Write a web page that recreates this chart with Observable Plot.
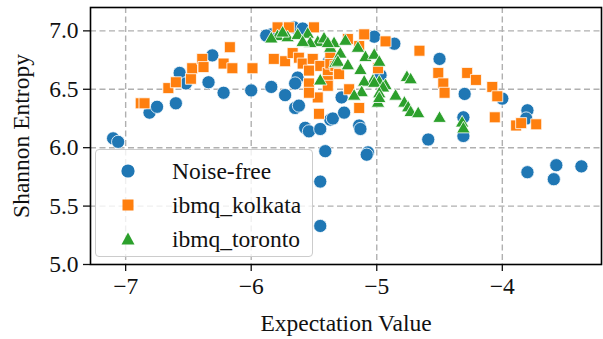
<!DOCTYPE html>
<html>
<head>
<meta charset="utf-8">
<script src="https://cdn.jsdelivr.net/npm/d3@7"></script>
<script src="https://cdn.jsdelivr.net/npm/@observablehq/plot@0.6"></script>
<style>
  body { margin: 0; background: #fff; }
  #wrap { position: relative; width: 603px; height: 339px; font-family: "Liberation Serif", "Times New Roman", serif; }
  #legend { position: absolute; left: 95px; top: 149px; width: 216px; height: 106px;
    background: rgba(255,255,255,0.8); border: 1px solid #cccccc; border-radius: 4px; }
  .entry { position: absolute; left: 0; height: 30px; display: flex; align-items: center; font-size: 23.5px; color: #111; }
  .entry svg { margin-left: 25px; margin-right: 37px; }
</style>
</head>
<body>
<div id="wrap"></div>
<script>
const seriesNames = ["Noise-free", "ibmq_kolkata", "ibmq_toronto"];
const seriesColors = ["#1f77b4", "#ff7f0e", "#2ca02c"];
const xTicks = [-7, -6, -5, -4];
const yTicks = [5.0, 5.5, 6.0, 6.5, 7.0];

const noiseFree = [
  [-7.10,6.08],[-7.06,6.05],[-6.81,6.30],[-6.75,6.35],[-6.60,6.38],[-6.57,6.64],[-6.52,6.55],
  [-6.34,6.56],[-6.31,6.79],[-6.22,6.47],[-6.00,6.49],[-5.84,6.52],[-5.73,6.45],[-5.65,6.34],
  [-5.62,6.36],[-5.57,6.17],[-5.54,6.14],[-5.45,6.16],[-5.37,6.24],[-5.35,6.25],[-5.41,5.97],
  [-5.45,5.71],[-5.45,5.33],[-5.07,5.96],[-5.08,5.94],[-5.84,6.97],[-5.88,6.96],[-5.66,7.03],
  [-5.59,7.02],[-5.63,6.60],[-5.65,6.55],[-5.28,6.43],[-5.26,6.30],[-5.14,6.19],[-5.13,6.16],
  [-5.38,6.74],[-5.02,6.95],[-4.86,6.89],[-4.97,6.62],[-4.50,6.76],[-4.30,6.46],[-4.00,6.42],
  [-3.80,6.32],[-3.81,6.25],[-4.31,6.26],[-4.31,6.10],[-4.59,6.07],[-3.80,5.79],[-3.57,5.85],
  [-3.59,5.73],[-3.37,5.84]
];
const kolkata = [
  [-6.88,6.38],[-6.85,6.38],[-6.66,6.51],[-6.60,6.56],[-6.48,6.59],[-6.47,6.68],[-6.39,6.76],
  [-6.38,6.69],[-6.22,6.72],[-6.15,6.68],[-6.17,6.86],[-5.99,6.68],[-5.82,6.76],[-5.73,6.74],
  [-5.54,6.55],[-5.47,6.43],[-5.46,6.29],[-5.54,6.47],[-5.79,7.03],[-5.70,7.03],[-5.50,7.03],
  [-5.67,6.81],[-5.62,6.77],[-5.59,6.72],[-5.51,6.76],[-5.45,6.70],[-5.54,6.66],[-5.39,6.64],
  [-5.37,6.72],[-5.33,6.70],[-5.30,6.63],[-5.39,6.57],[-5.37,6.81],[-5.23,6.93],[-5.14,6.87],
  [-5.10,6.97],[-4.93,6.91],[-4.99,6.68],[-5.39,6.53],[-5.22,6.50],[-5.14,6.34],[-4.66,6.83],
  [-4.51,6.64],[-4.47,6.55],[-4.46,6.47],[-4.28,6.64],[-4.21,6.58],[-4.08,6.52],[-4.04,6.44],
  [-4.06,6.26],[-3.89,6.19],[-3.85,6.21],[-3.73,6.20]
];
const toronto = [
  [-5.79,6.95],[-5.71,6.94],[-5.63,6.96],[-5.55,6.97],[-5.47,6.90],[-5.42,6.93],[-5.37,6.85],
  [-5.53,6.89],[-5.59,6.90],[-5.75,6.98],[-5.84,6.93],[-5.33,6.72],[-5.45,6.57],[-5.34,6.89],
  [-5.25,6.91],[-5.29,6.80],[-5.15,6.85],[-5.09,6.77],[-5.02,6.79],[-4.98,6.73],[-5.31,6.73],
  [-5.23,6.70],[-5.13,6.66],[-5.03,6.57],[-4.98,6.56],[-4.93,6.53],[-5.10,6.56],[-5.39,6.89],
  [-4.76,6.60],[-4.73,6.58],[-5.12,6.47],[-5.18,6.44],[-5.02,6.55],[-4.95,6.51],[-4.98,6.46],
  [-4.85,6.44],[-4.78,6.38],[-4.75,6.34],[-4.73,6.30],[-4.67,6.29],[-4.50,6.25],[-4.32,6.21],
  [-4.31,6.16],[-4.99,6.38],[-4.98,6.42]
];

const toRows = arr => arr.map(([x, y]) => ({x, y}));
const grid = {stroke: "#b0b0b0", strokeOpacity: 1, strokeWidth: 1.4, strokeDasharray: "6,3.5"};

const chart = Plot.plot({
  width: 603,
  height: 339,
  marginLeft: 90,
  marginRight: 2,
  marginTop: 7,
  marginBottom: 75,
  style: {fontFamily: "'Liberation Serif', 'Times New Roman', serif", fontSize: "23.5px", background: "white", color: "#111"},
  x: {domain: [-7.28, -3.21]},
  y: {domain: [5.0, 7.2]},
  marks: [
    Plot.gridX(xTicks, grid),
    Plot.gridY(yTicks.filter(d => d > 5.0), grid),
    Plot.dot(toRows(noiseFree), {x: "x", y: "y", symbol: "circle", r: 6.6, fill: seriesColors[0], stroke: "white", strokeWidth: 0.8}),
    Plot.dot(toRows(kolkata), {x: "x", y: "y", symbol: "square", r: 6.2, fill: seriesColors[1], stroke: "white", strokeWidth: 0.8}),
    Plot.dot(toRows(toronto), {x: "x", y: "y", symbol: "triangle", r: 5.0, fill: seriesColors[2], stroke: "white", strokeWidth: 0.8}),
    Plot.axisX(xTicks, {tickSize: 7, tickPadding: 6, strokeWidth: 1.3, tickFormat: d3.format("d"), fontSize: 23.5,
      label: "Expectation Value", labelAnchor: "center", labelArrow: "none", labelOffset: 66}),
    Plot.axisY(yTicks, {tickSize: 7, tickPadding: 5, strokeWidth: 1.3, tickFormat: d3.format(".1f"), fontSize: 23.5,
      label: "Shannon Entropy", labelAnchor: "center", labelArrow: "none", labelOffset: 78}),
    Plot.frame({stroke: "black", strokeWidth: 1.6})
  ]
});

const wrap = document.getElementById("wrap");
wrap.appendChild(chart);

const legend = document.createElement("div");
legend.id = "legend";
const shapes = [
  `<circle cx="7" cy="7" r="6.6" fill="${seriesColors[0]}"/>`,
  `<rect x="1.5" y="1.5" width="11" height="11" fill="${seriesColors[1]}"/>`,
  `<polygon points="7,0.5 13.5,12.5 0.5,12.5" fill="${seriesColors[2]}"/>`
];
seriesNames.forEach((name, i) => {
  const e = document.createElement("div");
  e.className = "entry";
  e.style.top = (6 + i * 34) + "px";
  e.innerHTML = `<svg width="14" height="14" viewBox="0 0 14 14">${shapes[i]}</svg><span>${name}</span>`;
  legend.appendChild(e);
});
wrap.appendChild(legend);
</script>
</body>
</html>
